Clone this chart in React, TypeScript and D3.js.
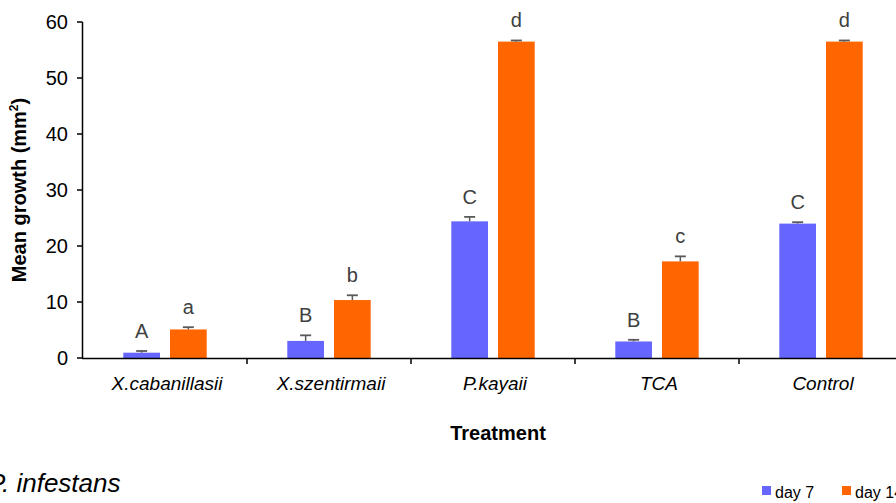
import React from "react";
import * as d3 from "d3";

const categories = ["X.cabanillasii", "X.szentirmaii", "P.kayaii", "TCA", "Control"];
const seriesNames = ["day 7", "day 14"];
const day7 = [0.95, 3.05, 24.4, 2.95, 24.0];
const day7Err = [0.3, 1.0, 0.8, 0.3, 0.25];
const day14 = [5.1, 10.35, 56.5, 17.25, 56.5];
const day14Err = [0.4, 0.85, 0.2, 0.9, 0.2];
const day7Letters = ["A", "B", "C", "B", "C"];
const day14Letters = ["a", "b", "d", "c", "d"];
const yTicks = [0, 10, 20, 30, 40, 50, 60];
const colors = ["#6666FF", "#FF6600"];

export default function App() {
  const W = 896, H = 503;
  const y = d3.scaleLinear().domain([0, 60]).range([358, 22]);
  const x = d3.scaleBand<string>().domain(categories).range([83, 903]);
  const barW = 36.7, gap = 10;
  const series = [
    { vals: day7, errs: day7Err, letters: day7Letters, color: colors[0], off: -gap / 2 - barW },
    { vals: day14, errs: day14Err, letters: day14Letters, color: colors[1], off: gap / 2 },
  ];
  const font = "'Liberation Sans', Arial, sans-serif";
  return (
    <svg width={W} height={H} style={{ position: "absolute", left: 0, top: 0, background: "#fff" }} fontFamily={font}>
      {series.map((s, si) =>
        categories.map((c, i) => {
          const cx = x(c)! + x.bandwidth() / 2;
          const bx = cx + s.off;
          const top = y(s.vals[i]);
          const ey = y(s.vals[i] + s.errs[i]);
          const mid = bx + barW / 2;
          return (
            <g key={si + "-" + i}>
              <rect x={bx} y={top} width={barW} height={y(0) - top} fill={s.color} />
              <line x1={mid} x2={mid} y1={top} y2={ey} stroke="#595959" strokeWidth={1.5} />
              <line x1={mid - 5.5} x2={mid + 5.5} y1={ey} y2={ey} stroke="#595959" strokeWidth={1.8} />
              <text x={mid} y={ey - 13} textAnchor="middle" fontSize={20} fill="#404040">{s.letters[i]}</text>
            </g>
          );
        })
      )}
      {/* y axis */}
      <line x1={82.5} x2={82.5} y1={22} y2={358.5} stroke="#000" strokeWidth={1.5} />
      {yTicks.map((t) => (
        <g key={t}>
          <line x1={77} x2={82.5} y1={y(t)} y2={y(t)} stroke="#000" strokeWidth={1.5} />
          <text x={68} y={y(t)} dy="0.36em" textAnchor="end" fontSize={20} fill="#000">{t}</text>
        </g>
      ))}
      {/* x axis */}
      <line x1={82} x2={W} y1={358.5} y2={358.5} stroke="#000" strokeWidth={1.5} />
      {categories.map((c, i) => (
        <g key={c}>
          {i > 0 && <line x1={x(c)!} x2={x(c)!} y1={358.5} y2={364} stroke="#000" strokeWidth={1.5} />}
          <text x={x(c)! + x.bandwidth() / 2 + 2} y={390} textAnchor="middle" fontSize={19} fontStyle="italic" fill="#000">{c}</text>
        </g>
      ))}
      <text x={498} y={439.5} textAnchor="middle" fontSize={20} fontWeight="bold" fill="#000">Treatment</text>
      <text transform="translate(26,190) rotate(-90)" textAnchor="middle" fontSize={20} fontWeight="bold" fill="#000">
        Mean growth (mm<tspan fontSize={12} dy={-8}>2</tspan><tspan dy={8}>)</tspan>
      </text>
      <text x={-12} y={492} fontSize={26} fontStyle="italic" fill="#000">P. infestans</text>
      {/* legend */}
      {seriesNames.map((n, i) => (
        <g key={n}>
          <rect x={762} y={486} width={9} height={9} fill={colors[i]} transform={`translate(${i * 80},0)`} />
          <text x={775 + i * 80} y={497.5} fontSize={16} fill="#000" fontFamily="'Liberation Sans Narrow', 'Arial Narrow', Arial, sans-serif">{n}</text>
        </g>
      ))}
    </svg>
  );
}
